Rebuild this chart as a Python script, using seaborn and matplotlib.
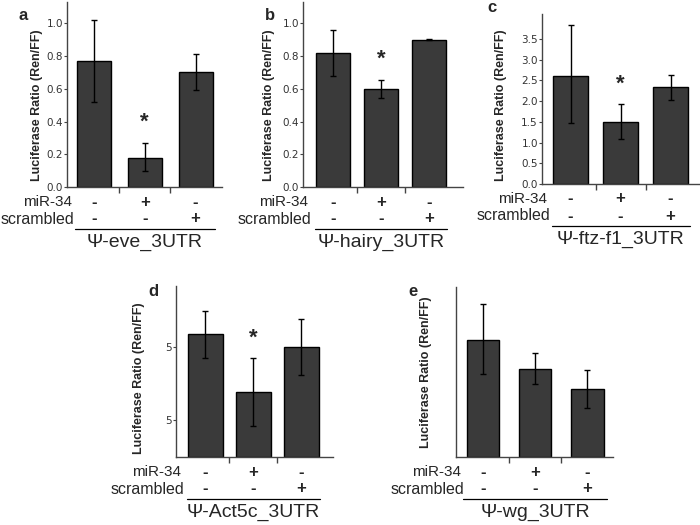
import matplotlib
matplotlib.use("Agg")
import matplotlib.pyplot as plt
from matplotlib import transforms
import numpy as np
import pandas as pd
import seaborn as sns

# conditions under each bar
groups = ["ctrl", "mir34", "scr"]
mir34 = ["-", "+", "-"]
scrambled = ["-", "-", "+"]

# luciferase ratios with error bar ends
eve_vals = [0.77, 0.18, 0.70]
eve_lo = [0.52, 0.10, 0.595]
eve_hi = [1.02, 0.27, 0.815]

hairy_vals = [0.82, 0.60, 0.90]
hairy_lo = [0.675, 0.545, 0.895]
hairy_hi = [0.96, 0.655, 0.905]

ftz_vals = [2.60, 1.50, 2.34]
ftz_lo = [1.46, 1.08, 2.03]
ftz_hi = [3.83, 1.92, 2.64]

act_vals = [1.68, 0.89, 1.51]
act_lo = [1.36, 0.42, 1.12]
act_hi = [2.00, 1.35, 1.89]

wg_vals = [0.69, 0.52, 0.40]
wg_lo = [0.49, 0.43, 0.29]
wg_hi = [0.90, 0.61, 0.51]

titles = ["Ψ-eve_3UTR", "Ψ-hairy_3UTR", "Ψ-ftz-f1_3UTR", "Ψ-Act5c_3UTR", "Ψ-wg_3UTR"]
letters = ["a", "b", "c", "d", "e"]
significant = [True, True, True, True, False]

W, H = 700, 525

sns.set_style("ticks")
plt.rcParams["font.family"] = ["Liberation Sans", "DejaVu Sans"]

fig = plt.figure(figsize=(7, 5.25), dpi=100)


def px_rect(left, right, bottom, top):
    return [left / W, (H - bottom) / H, (right - left) / W, (bottom - top) / H]


# layout per panel: axes rect in pixels, xlim, ylim, bar width, ylabel pos, letter pos
panels = [
    dict(vals=eve_vals, lo=eve_lo, hi=eve_hi, rect=(67, 222, 187, 2), xlim=(-0.53, 2.52),
         ylim=(0, 1.13), width=0.67, yticks=np.arange(0, 1.01, 0.2), ylab=(-0.155, 0.443), letter=(23, 16)),
    dict(vals=hairy_vals, lo=hairy_lo, hi=hairy_hi, rect=(303, 463, 187, 2), xlim=(-0.625, 2.71),
         ylim=(0, 1.13), width=0.71, yticks=np.arange(0, 1.01, 0.2), ylab=(-0.175, 0.443), letter=(270, 15)),
    dict(vals=ftz_vals, lo=ftz_lo, hi=ftz_hi, rect=(542, 699, 184, 14), xlim=(-0.57, 2.57),
         ylim=(0, 4.1), width=0.70, yticks=np.arange(0, 3.51, 0.5), ylab=(-0.223, 0.465), letter=(492, 8)),
    dict(vals=act_vals, lo=act_lo, hi=act_hi, rect=(176, 333, 457, 286), xlim=(-0.61, 2.66),
         ylim=(0, 2.34), width=0.72, yticks=[0.5, 1.5], yticklabels=["5", "5"], ylab=(-0.197, 0.46), letter=(153, 292)),
    dict(vals=wg_vals, lo=wg_lo, hi=wg_hi, rect=(456, 613, 457, 287), xlim=(-0.52, 2.49),
         ylim=(0, 1.0), width=0.62, yticks=[], ylab=(-0.153, 0.50), letter=(413, 292)),
]

for i, p in enumerate(panels):
    ax = fig.add_axes(px_rect(*p["rect"]))
    df = pd.DataFrame({"group": groups, "ratio": p["vals"]})
    sns.barplot(data=df, x="group", y="ratio", order=groups, color="#3a3a3a",
                saturation=1, width=p["width"], edgecolor="black", linewidth=1,
                errorbar=None, ax=ax)
    vals = np.array(p["vals"])
    lo = np.array(p["lo"])
    hi = np.array(p["hi"])
    ax.errorbar(np.arange(3), vals, yerr=[vals - lo, hi - vals], fmt="none",
                ecolor="black", elinewidth=1, capsize=2, capthick=1, zorder=5)

    ax.set_xlim(*p["xlim"])
    ax.set_ylim(*p["ylim"])
    ax.set_xticks([0.5, 1.5])
    ax.set_xticklabels([])
    ax.tick_params(axis="x", length=4, width=1, color="#444444", direction="out")
    ax.set_yticks(p["yticks"])
    if "yticklabels" in p:
        ax.set_yticklabels(p["yticklabels"])
    else:
        ax.set_yticklabels([f"{t:.1f}" for t in p["yticks"]])
    ax.tick_params(axis="y", length=2, width=0.8, labelsize=7.5, labelcolor="#333333",
                   color="#444444", pad=1)
    for lab in ax.get_yticklabels():
        lab.set_family("DejaVu Sans")
    sns.despine(ax=ax)
    for s in ["left", "bottom"]:
        ax.spines[s].set_color("#444444")
        ax.spines[s].set_linewidth(1)

    ax.set_xlabel("")
    ax.set_ylabel("Luciferase Ratio (Ren/FF)", fontsize=9, fontweight="bold")
    ax.yaxis.set_label_coords(*p["ylab"])

    # condition rows beneath the axis
    base = transforms.blended_transform_factory(ax.transData, ax.transAxes)
    base_ax = ax.transAxes
    row1 = transforms.offset_copy(base, fig=fig, y=-15, units="dots")
    row2 = transforms.offset_copy(base, fig=fig, y=-32, units="dots")
    line_t = transforms.offset_copy(base, fig=fig, y=-42, units="dots")
    title_t = transforms.offset_copy(base, fig=fig, y=-55, units="dots")
    lab1 = transforms.offset_copy(base_ax, fig=fig, y=-15, units="dots")
    lab2 = transforms.offset_copy(base_ax, fig=fig, y=-32, units="dots")

    for x, m, s in zip(range(3), mir34, scrambled):
        ax.text(x, 0, m, transform=row1, ha="center", va="center", fontsize=12,
                fontweight="bold", clip_on=False)
        ax.text(x, 0, s, transform=row2, ha="center", va="center", fontsize=12,
                fontweight="bold", clip_on=False)
    ax.text(0.03, 0, "miR-34", transform=lab1, ha="right", va="center", fontsize=11, clip_on=False)
    ax.text(0.05, 0, "scrambled", transform=lab2, ha="right", va="center", fontsize=11.5, clip_on=False)
    ax.plot([-0.38, 2.38], [0, 0], transform=line_t, color="black", lw=0.9, clip_on=False)
    ax.text(1, 0, titles[i], transform=title_t, ha="center", va="center", fontsize=14, clip_on=False)

    if significant[i]:
        star_t = transforms.offset_copy(ax.transData, fig=fig, y=10, units="dots")
        ax.text(1, hi[1], "*", transform=star_t, ha="center", va="bottom",
                fontsize=16, fontweight="bold", clip_on=False)

    lx, ly = p["letter"]
    fig.text(lx / W, 1 - ly / H, letters[i], ha="center", va="center",
             fontsize=12, fontweight="bold")

fig.savefig("out.png", dpi=100)
